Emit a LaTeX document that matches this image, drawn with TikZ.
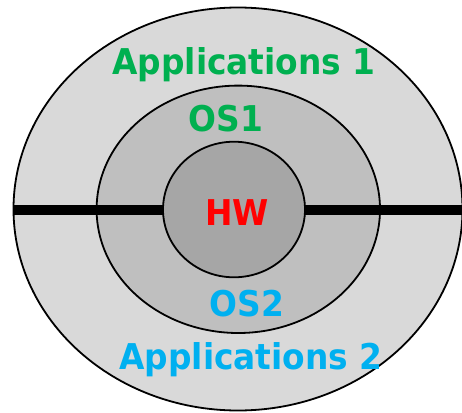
\documentclass[tikz,border=0pt]{standalone}
\usepackage{fontspec}
\usetikzlibrary{shapes.geometric}
\newfontfamily\lblfont[FakeStretch=0.925]{DejaVu Sans}
\definecolor{ringA}{HTML}{D9D9D9}
\definecolor{ringB}{HTML}{BFBFBF}
\definecolor{ringC}{HTML}{A6A6A6}
\definecolor{appgreen}{HTML}{00B050}
\definecolor{osblue}{HTML}{00B0F0}
\definecolor{hwred}{HTML}{FF0000}
\begin{document}
\begin{tikzpicture}[x=1pt,y=-1pt,
  ring/.style={ellipse,draw=black,line width=1.8pt,inner sep=0pt,outer sep=0pt},
  lbl/.style={anchor=base,inner sep=0pt,font=\lblfont\bfseries\fontsize{35.5}{40}\selectfont},
  divider/.style={line width=10pt,black}]
  \useasboundingbox (0,0) rectangle (462,412);
  % nested layers
  \node[ring,fill=ringA,minimum width=449pt,minimum height=403pt] (apps) at (238,209) {};
  \node[ring,fill=ringB,minimum width=283.4pt,minimum height=247.4pt] (os) at (238.3,209.3) {};
  \node[ring,fill=ringC,minimum width=142pt,minimum height=135.6pt] (hw) at (234,209.5) {};
  % split between the two systems
  \coordinate (lw) at (apps.west |- 0,210);
  \coordinate (le) at (hw.west |- 0,210);
  \coordinate (rw) at (hw.east |- 0,210);
  \coordinate (re) at (462,210);
  \draw[divider] (lw) -- (le);
  \draw[divider] (rw) -- (re);
  % labels
  \node[lbl,text=appgreen] (a1) at (244,74) {Applications 1};
  \node[lbl,text=appgreen] (o1) at (226,131.5) {OS1};
  \node[lbl,text=hwred] (h) at (237,225) {HW};
  \node[lbl,text=osblue] (o2) at (247,316.5) {OS2};
  \node[lbl,text=osblue] (a2) at (251,369) {Applications 2};
\end{tikzpicture}
\end{document}
